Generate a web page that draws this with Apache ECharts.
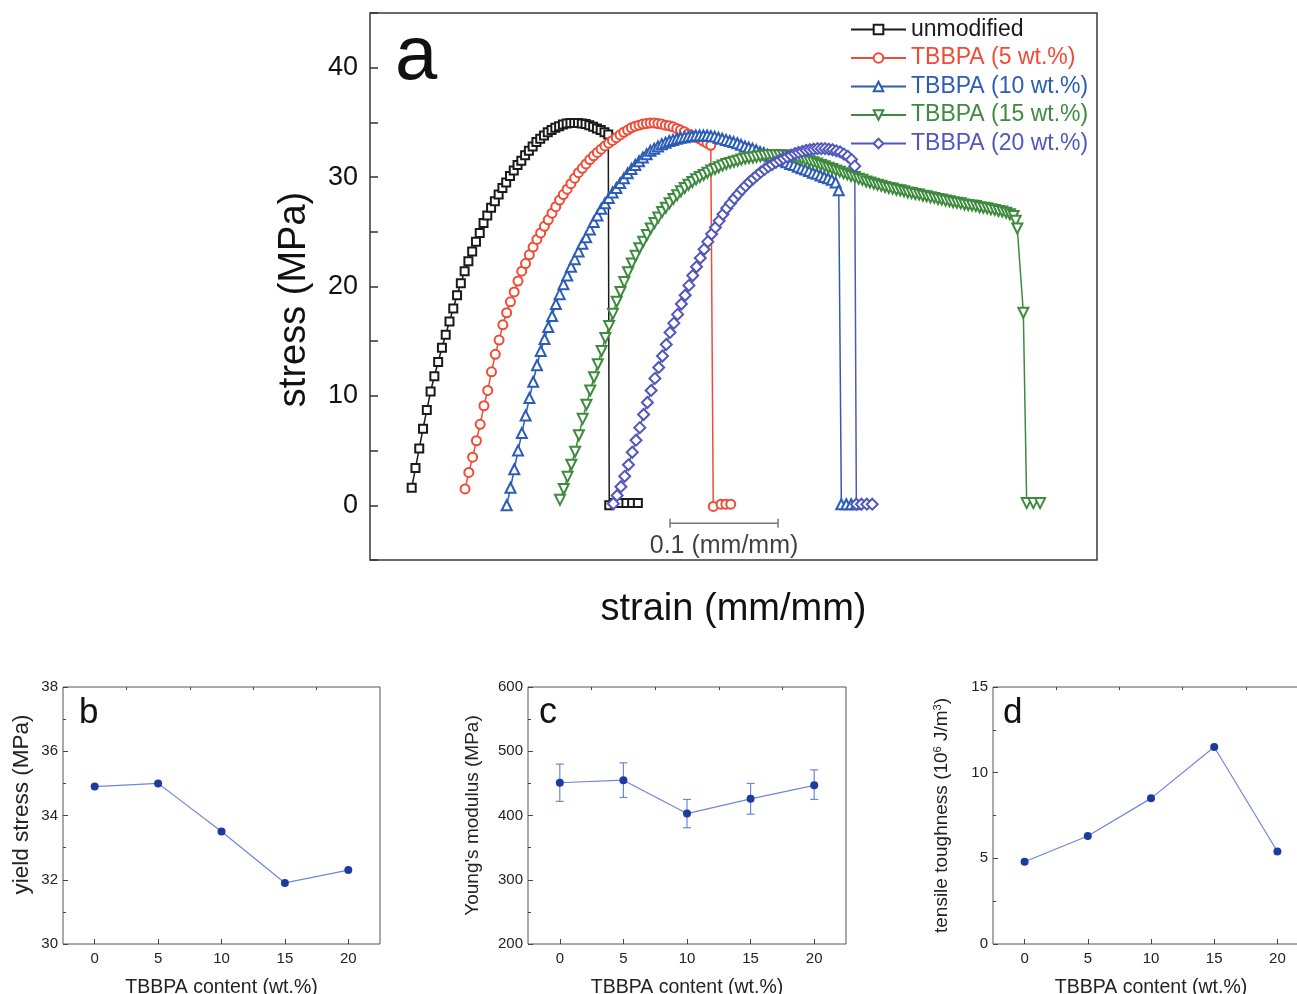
<!DOCTYPE html>
<html><head><meta charset="utf-8">
<script src="https://cdn.jsdelivr.net/npm/echarts@6/dist/echarts.min.js"></script>
<style>html,body{margin:0;padding:0;background:#fff}#c{width:1297px;height:994px}</style>
</head><body><div id="c"></div>
<script>
// ---- Panel a: stress-strain curves (strain, stress MPa); curves are offset along strain ----
const unmodified = [[0.0386,1.6],[0.0421,3.4],[0.0456,5.2],[0.0491,7.0],[0.0526,8.7],[0.0561,10.4],[0.0596,11.8],[0.0631,13.1],[0.0666,14.4],[0.0701,15.6],[0.0736,16.8],[0.0771,18.0],[0.0806,19.2],[0.0841,20.3],[0.0876,21.4],[0.0911,22.3],[0.0946,23.2],[0.0981,24.1],[0.1016,24.9],[0.1051,25.8],[0.1086,26.5],[0.1121,27.2],[0.1156,27.8],[0.1191,28.4],[0.1226,29.0],[0.1261,29.5],[0.1296,30.1],[0.1331,30.6],[0.1366,31.1],[0.1401,31.5],[0.1436,32.0],[0.1471,32.4],[0.1506,32.8],[0.1541,33.2],[0.1576,33.5],[0.1611,33.8],[0.1646,34.1],[0.1681,34.3],[0.1716,34.5],[0.1751,34.65],[0.1786,34.8],[0.1821,34.9],[0.1856,34.95],[0.1891,34.95],[0.1926,34.95],[0.1961,34.9],[0.1996,34.85],[0.2031,34.75],[0.2066,34.6],[0.2101,34.45],[0.2136,34.3],[0.2171,34.1],[0.2206,33.9],[0.2215,0.0],[0.2268,0.2],[0.2321,0.2],[0.2374,0.2],[0.2427,0.2],[0.2480,0.2]];
const tbbpa5 = [[0.0880,1.5],[0.0915,3.0],[0.0950,4.4],[0.0985,5.9],[0.1020,7.4],[0.1055,9.1],[0.1090,10.5],[0.1125,12.2],[0.1160,13.8],[0.1195,15.1],[0.1230,16.5],[0.1265,17.6],[0.1300,18.6],[0.1335,19.5],[0.1370,20.5],[0.1405,21.4],[0.1440,22.1],[0.1475,22.9],[0.1510,23.6],[0.1545,24.3],[0.1580,24.9],[0.1615,25.5],[0.1650,26.1],[0.1685,26.7],[0.1720,27.3],[0.1755,27.9],[0.1790,28.4],[0.1825,28.9],[0.1860,29.4],[0.1895,29.9],[0.1930,30.4],[0.1965,30.8],[0.2000,31.2],[0.2035,31.6],[0.2070,31.95],[0.2105,32.25],[0.2140,32.55],[0.2175,32.85],[0.2210,33.1],[0.2245,33.35],[0.2280,33.6],[0.2315,33.85],[0.2350,34.1],[0.2385,34.3],[0.2420,34.5],[0.2455,34.65],[0.2490,34.75],[0.2525,34.85],[0.2560,34.9],[0.2595,34.95],[0.2630,34.95],[0.2665,34.9],[0.2700,34.85],[0.2735,34.75],[0.2770,34.7],[0.2805,34.6],[0.2840,34.45],[0.2875,34.3],[0.2910,34.15],[0.2945,33.95],[0.2980,33.8],[0.3015,33.65],[0.3050,33.5],[0.3085,33.3],[0.3120,33.1],[0.3155,32.9],[0.3178,-0.1],[0.3250,0.1],[0.3295,0.1],[0.3340,0.1]];
const tbbpa10 = [[0.1266,0.0],[0.1301,1.6],[0.1336,3.3],[0.1371,5.0],[0.1406,6.6],[0.1441,8.2],[0.1476,9.8],[0.1511,11.3],[0.1546,12.8],[0.1581,14.1],[0.1616,15.2],[0.1651,16.3],[0.1686,17.3],[0.1721,18.4],[0.1756,19.3],[0.1791,20.2],[0.1826,21.0],[0.1861,21.8],[0.1896,22.5],[0.1931,23.2],[0.1966,23.9],[0.2001,24.5],[0.2036,25.2],[0.2071,25.9],[0.2106,26.5],[0.2141,27.1],[0.2176,27.6],[0.2211,28.1],[0.2246,28.6],[0.2281,29.0],[0.2316,29.45],[0.2351,29.9],[0.2386,30.35],[0.2421,30.75],[0.2456,31.1],[0.2491,31.45],[0.2526,31.8],[0.2561,32.1],[0.2596,32.4],[0.2631,32.6],[0.2666,32.8],[0.2701,33.0],[0.2736,33.15],[0.2771,33.3],[0.2806,33.4],[0.2841,33.5],[0.2876,33.6],[0.2911,33.65],[0.2946,33.7],[0.2981,33.75],[0.3016,33.8],[0.3051,33.8],[0.3086,33.8],[0.3121,33.8],[0.3156,33.75],[0.3191,33.7],[0.3226,33.6],[0.3261,33.5],[0.3296,33.4],[0.3331,33.3],[0.3366,33.2],[0.3401,33.1],[0.3436,32.95],[0.3471,32.8],[0.3506,32.7],[0.3541,32.6],[0.3576,32.45],[0.3611,32.3],[0.3646,32.2],[0.3681,32.05],[0.3716,31.9],[0.3751,31.8],[0.3786,31.65],[0.3821,31.5],[0.3856,31.35],[0.3891,31.2],[0.3926,31.1],[0.3961,30.95],[0.3996,30.8],[0.4031,30.7],[0.4066,30.55],[0.4101,30.4],[0.4136,30.3],[0.4171,30.15],[0.4206,30.0],[0.4241,29.9],[0.4276,29.75],[0.4311,29.5],[0.4340,28.8],[0.4364,0.1],[0.4410,0.1],[0.4455,0.1],[0.4500,0.1]];
const tbbpa15 = [[0.1759,0.5],[0.1794,1.5],[0.1829,2.6],[0.1864,3.7],[0.1899,4.9],[0.1934,6.4],[0.1969,7.9],[0.2004,9.2],[0.2039,10.5],[0.2074,11.7],[0.2109,12.9],[0.2144,14.1],[0.2179,15.3],[0.2214,16.4],[0.2249,17.5],[0.2284,18.6],[0.2319,19.5],[0.2354,20.4],[0.2389,21.3],[0.2424,22.1],[0.2459,22.8],[0.2494,23.5],[0.2529,24.1],[0.2564,24.7],[0.2599,25.3],[0.2634,25.8],[0.2669,26.3],[0.2704,26.8],[0.2739,27.2],[0.2774,27.6],[0.2809,28.0],[0.2844,28.35],[0.2879,28.7],[0.2914,29.0],[0.2949,29.3],[0.2984,29.55],[0.3019,29.8],[0.3054,30.0],[0.3089,30.2],[0.3124,30.4],[0.3159,30.6],[0.3194,30.75],[0.3229,30.9],[0.3264,31.05],[0.3299,31.2],[0.3334,31.3],[0.3369,31.4],[0.3404,31.5],[0.3439,31.6],[0.3474,31.7],[0.3509,31.75],[0.3544,31.8],[0.3579,31.85],[0.3614,31.9],[0.3649,31.95],[0.3684,32.0],[0.3719,32.0],[0.3754,32.0],[0.3789,32.0],[0.3824,32.0],[0.3859,31.95],[0.3894,31.9],[0.3929,31.85],[0.3964,31.75],[0.3999,31.65],[0.4034,31.55],[0.4069,31.45],[0.4104,31.35],[0.4139,31.25],[0.4174,31.1],[0.4209,31.0],[0.4244,30.85],[0.4279,30.75],[0.4314,30.6],[0.4349,30.5],[0.4384,30.35],[0.4419,30.25],[0.4454,30.1],[0.4489,30.0],[0.4524,29.85],[0.4559,29.75],[0.4594,29.6],[0.4629,29.5],[0.4664,29.4],[0.4699,29.3],[0.4734,29.2],[0.4769,29.1],[0.4804,29.0],[0.4839,28.95],[0.4874,28.85],[0.4909,28.8],[0.4944,28.7],[0.4979,28.6],[0.5014,28.55],[0.5049,28.45],[0.5084,28.4],[0.5119,28.3],[0.5154,28.25],[0.5189,28.15],[0.5224,28.1],[0.5259,28.0],[0.5294,27.95],[0.5329,27.85],[0.5364,27.8],[0.5399,27.7],[0.5434,27.65],[0.5469,27.6],[0.5504,27.5],[0.5539,27.45],[0.5574,27.4],[0.5609,27.35],[0.5644,27.25],[0.5679,27.2],[0.5714,27.15],[0.5749,27.05],[0.5784,27.0],[0.5819,26.9],[0.5854,26.85],[0.5889,26.75],[0.5924,26.6],[0.5959,26.45],[0.5978,26.0],[0.5993,25.3],[0.6049,17.6],[0.6080,0.2],[0.6142,0.2],[0.6204,0.2]];
const tbbpa20 = [[0.2253,0.15],[0.2288,0.9],[0.2323,1.7],[0.2358,2.65],[0.2393,3.7],[0.2428,4.85],[0.2463,5.95],[0.2498,7.1],[0.2533,8.3],[0.2568,9.4],[0.2603,10.5],[0.2638,11.6],[0.2673,12.6],[0.2708,13.65],[0.2743,14.7],[0.2778,15.8],[0.2813,16.65],[0.2848,17.45],[0.2883,18.4],[0.2918,19.2],[0.2953,20.1],[0.2988,21.0],[0.3023,21.8],[0.3058,22.6],[0.3093,23.4],[0.3128,24.1],[0.3163,24.8],[0.3198,25.4],[0.3233,26.0],[0.3268,26.6],[0.3303,27.15],[0.3338,27.6],[0.3373,28.05],[0.3408,28.45],[0.3443,28.85],[0.3478,29.2],[0.3513,29.55],[0.3548,29.85],[0.3583,30.15],[0.3618,30.45],[0.3653,30.7],[0.3688,30.95],[0.3723,31.15],[0.3758,31.35],[0.3793,31.55],[0.3828,31.7],[0.3863,31.85],[0.3898,32.0],[0.3933,32.15],[0.3968,32.25],[0.4003,32.35],[0.4038,32.45],[0.4073,32.5],[0.4108,32.55],[0.4143,32.6],[0.4178,32.6],[0.4213,32.6],[0.4248,32.55],[0.4283,32.5],[0.4318,32.4],[0.4353,32.3],[0.4388,32.1],[0.4423,31.9],[0.4458,31.6],[0.4488,31.0],[0.4503,0.1],[0.4550,0.1],[0.4600,0.1],[0.4650,0.1]];
const scaleBar = [[0.2778,-1.65],[0.3778,-1.65]];
const scaleBarLabel = [[0.3278,-3.7]];
const stressTicks = [0,10,20,30,40];

// ---- Panels b, c, d ----
const content = [0,5,10,15,20];
const yieldStress = [34.9,35.0,33.5,31.9,32.3];
const youngs = [451,455,403,426,447];
const youngsLow = [422,428,381,402,425];
const youngsHigh = [480,482,425,450,471];
const toughness = [4.8,6.3,8.5,11.5,5.4];
const minorContent = [2.5,7.5,12.5,17.5];

const FONT = "'Liberation Sans', Arial, Helvetica, sans-serif";
const C_BLACK = '#1a1a1a', C_RED = '#ef4b35', C_BLUE = '#2b5cb8', C_GREEN = '#3e8a3e', C_PURPLE = '#5257bb';
const DOT = '#1b3c9e', LINE = '#7086d6';

function curve(name, data, color, symbol, size, rot) {
  return {
    type: 'line', name, data, xAxisIndex: 0, yAxisIndex: 0,
    symbol, symbolSize: size, symbolRotate: rot || 0, showAllSymbol: true,
    lineStyle: { color, width: 1.5 },
    itemStyle: { color, borderColor: color, borderWidth: 1.2 },
    emphasis: { disabled: true }, animation: false
  };
}

const lowerX = (g, name) => ([
  { gridIndex: g, type: 'value', min: -2.5, max: 22.5,
    axisLine: { show: false, onZero: false }, splitLine: { show: false },
    axisTick: { show: true, inside: true, length: 5, customValues: content, lineStyle: { color: '#444' } },
    axisLabel: { customValues: content, fontSize: 15, color: '#222', margin: 7, fontFamily: FONT },
    name, nameLocation: 'middle', nameGap: 34, nameTextStyle: { fontSize: 19.5, color: '#222', fontFamily: FONT } },
  { gridIndex: g, type: 'value', min: -2.5, max: 22.5,
    axisLine: { show: false, onZero: false }, splitLine: { show: false }, axisLabel: { show: false },
    axisTick: { show: true, inside: true, length: 3, customValues: minorContent, lineStyle: { color: '#444' } } }
]);
const lowerY = (g, min, max, interval, name, gap, fs, pad, rich) => ({
  gridIndex: g, type: 'value', min, max, interval,
  axisLine: { show: false, onZero: false }, splitLine: { show: false },
  axisTick: { show: true, inside: true, length: 5, lineStyle: { color: '#444' } },
  minorTick: { show: true, splitNumber: 2, length: 3, lineStyle: { color: '#444' } },
  axisLabel: { fontSize: 15, color: '#222', margin: 5, fontFamily: FONT },
  name, nameLocation: 'middle', nameGap: gap,
  nameTextStyle: Object.assign({ fontSize: fs, color: '#222', fontFamily: FONT, padding: pad }, rich ? { rich } : {})
});

const gridBase = { show: true, outerBoundsMode: 'none', containLabel: false };
const option = {
  backgroundColor: '#ffffff',
  animation: false,
  textStyle: { fontFamily: FONT },
  grid: [
    Object.assign({ left: 370, top: 13, width: 727, height: 547, borderColor: '#3a3a3a', borderWidth: 1.5 }, gridBase),
    Object.assign({ left: 63, top: 687, width: 317, height: 257, borderColor: '#555', borderWidth: 1 }, gridBase),
    Object.assign({ left: 528, top: 687, width: 318, height: 257, borderColor: '#555', borderWidth: 1 }, gridBase),
    Object.assign({ left: 993, top: 687, width: 316, height: 257, borderColor: '#555', borderWidth: 1 }, gridBase)
  ],
  xAxis: [
    { gridIndex: 0, type: 'value', min: 0, max: 0.6731,
      axisLine: { show: false, onZero: false }, axisTick: { show: false }, axisLabel: { show: false }, splitLine: { show: false },
      name: 'strain (mm/mm)', nameLocation: 'middle', nameGap: 31,
      nameTextStyle: { fontSize: 38, color: '#111', fontFamily: FONT } },
    ...lowerX(1, 'TBBPA content (wt.%)'),
    ...lowerX(2, 'TBBPA content (wt.%)'),
    ...lowerX(3, 'TBBPA content (wt.%)')
  ],
  yAxis: [
    { gridIndex: 0, type: 'value', min: -5, max: 45, interval: 5,
      axisLine: { show: false, onZero: false }, splitLine: { show: false },
      axisTick: { show: true, inside: true, length: 8, lineStyle: { color: '#333', width: 1.5 } },
      axisLabel: { formatter: v => (stressTicks.indexOf(v) >= 0 ? String(v) : ''), fontSize: 27, color: '#111', margin: 12, fontFamily: FONT },
      name: 'stress (MPa)', nameLocation: 'middle', nameGap: 56,
      nameTextStyle: { fontSize: 38, color: '#111', fontFamily: FONT, padding: [0, 26, 0, 0] } },
    lowerY(1, 30, 38, 2, 'yield stress (MPa)', 30, 22.5, [0, 0, 0, 22]),
    lowerY(2, 200, 600, 100, "Young's modulus (MPa)", 46, 19, [0, 0, 0, 0]),
    lowerY(3, 0, 15, 5, 'tensile toughness (10{sup|6} J/m{sup|3})', 42, 19, [0, 0, 0, 0],
      { sup: { fontSize: 11, verticalAlign: 'top', color: '#222', fontFamily: FONT } })
  ],
  legend: {
    orient: 'vertical', left: 845, top: 13, itemWidth: 55, itemHeight: 12, itemGap: 5.5,
    selectedMode: false,
    textStyle: { fontSize: 23, lineHeight: 22.5, fontFamily: FONT },
    data: [
      { name: 'unmodified', textStyle: { color: C_BLACK } },
      { name: 'TBBPA (5 wt.%)', textStyle: { color: C_RED } },
      { name: 'TBBPA (10 wt.%)', textStyle: { color: C_BLUE } },
      { name: 'TBBPA (15 wt.%)', textStyle: { color: C_GREEN } },
      { name: 'TBBPA (20 wt.%)', textStyle: { color: C_PURPLE } }
    ]
  },
  graphic: [
    { type: 'text', x: 395, y: 58, style: { text: 'a', font: '76px ' + FONT, fill: '#111', verticalAlign: 'middle' } },
    { type: 'text', x: 79, y: 713, style: { text: 'b', font: '35px ' + FONT, fill: '#111', verticalAlign: 'middle' } },
    { type: 'text', x: 539, y: 713, style: { text: 'c', font: '36px ' + FONT, fill: '#111', verticalAlign: 'middle' } },
    { type: 'text', x: 1003, y: 713, style: { text: 'd', font: '35px ' + FONT, fill: '#111', verticalAlign: 'middle' } }
  ],
  series: [
    curve('unmodified', unmodified, C_BLACK, 'emptyRect', 8),
    curve('TBBPA (5 wt.%)', tbbpa5, C_RED, 'emptyCircle', 9),
    curve('TBBPA (10 wt.%)', tbbpa10, C_BLUE, 'emptyTriangle', 10),
    curve('TBBPA (15 wt.%)', tbbpa15, C_GREEN, 'emptyTriangle', 10, 180),
    curve('TBBPA (20 wt.%)', tbbpa20, C_PURPLE, 'emptyDiamond', 11),
    { type: 'line', name: 'scale', data: scaleBar, xAxisIndex: 0, yAxisIndex: 0,
      symbol: 'rect', symbolSize: [1.5, 9], lineStyle: { color: '#777', width: 1.5 }, itemStyle: { color: '#777' },
      emphasis: { disabled: true } },
    { type: 'scatter', name: 'scaleLabel', data: scaleBarLabel, xAxisIndex: 0, yAxisIndex: 0, symbolSize: 1,
      itemStyle: { color: 'rgba(0,0,0,0)' },
      label: { show: true, position: 'inside', formatter: '0.1 (mm/mm)', fontSize: 25, color: '#111', fontFamily: FONT },
      emphasis: { disabled: true } },
    // panel b
    { type: 'line', data: content.map((x, i) => [x, yieldStress[i]]), xAxisIndex: 1, yAxisIndex: 1,
      symbol: 'circle', symbolSize: 8, lineStyle: { color: LINE, width: 1.2 }, itemStyle: { color: DOT }, emphasis: { disabled: true } },
    // panel c error bars
    { type: 'custom', xAxisIndex: 3, yAxisIndex: 2, z: 1,
      data: content.map((x, i) => [x, youngsLow[i], youngsHigh[i]]),
      renderItem: (params, api) => {
        const lo = api.coord([api.value(0), api.value(1)]);
        const hi = api.coord([api.value(0), api.value(2)]);
        const w = 4, st = { stroke: LINE, lineWidth: 1.2 };
        return { type: 'group', children: [
          { type: 'line', shape: { x1: lo[0], y1: lo[1], x2: hi[0], y2: hi[1] }, style: st },
          { type: 'line', shape: { x1: lo[0] - w, y1: lo[1], x2: lo[0] + w, y2: lo[1] }, style: st },
          { type: 'line', shape: { x1: hi[0] - w, y1: hi[1], x2: hi[0] + w, y2: hi[1] }, style: st }
        ] };
      } },
    { type: 'line', data: content.map((x, i) => [x, youngs[i]]), xAxisIndex: 3, yAxisIndex: 2,
      symbol: 'circle', symbolSize: 8, lineStyle: { color: LINE, width: 1.2 }, itemStyle: { color: DOT }, emphasis: { disabled: true } },
    // panel d
    { type: 'line', data: content.map((x, i) => [x, toughness[i]]), xAxisIndex: 5, yAxisIndex: 3,
      symbol: 'circle', symbolSize: 8, lineStyle: { color: LINE, width: 1.2 }, itemStyle: { color: DOT }, emphasis: { disabled: true } }
  ]
};

const chart = echarts.init(document.getElementById('c'), null, { renderer: 'canvas' });
chart.setOption(option);
</script>
</body></html>
